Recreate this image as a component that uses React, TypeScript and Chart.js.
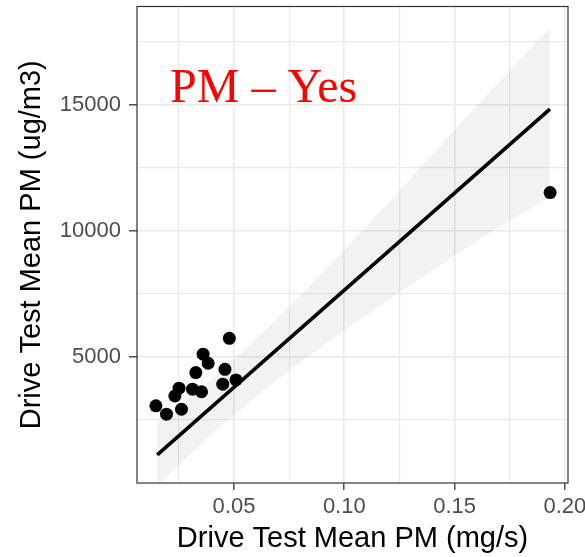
import React, { useEffect, useRef } from "react";
import { Chart, registerables } from "chart.js";

Chart.register(...registerables);

// Observed points (x: mg/s, y: ug/m3)
const pointX = [0.0146, 0.0194, 0.0262, 0.0232, 0.0251, 0.0312, 0.0353, 0.0327, 0.036, 0.0383, 0.0479, 0.0459, 0.0449, 0.0509, 0.1933];
const pointY = [3060, 2730, 2925, 3450, 3760, 3720, 3620, 4380, 5110, 4750, 5740, 4510, 3920, 4090, 11520];

// Fitted regression line (end points)
const fitX = [0.0152, 0.1932];
const fitY = [1115, 14830];

// Confidence band edges
const bandX = [0.0152, 0.03, 0.0443, 0.07, 0.1, 0.13, 0.16, 0.1932];
const bandUpper = [2370, 3390, 4450, 6550, 9250, 12080, 14950, 18050];
const bandLower = [-140, 1120, 2270, 4120, 6050, 7850, 9590, 11350];

// Grid positions and labelled ticks
const xGrid = [0.025, 0.05, 0.075, 0.1, 0.125, 0.15, 0.175, 0.2];
const yGrid = [2500, 5000, 7500, 10000, 12500, 15000, 17500];
const xTickLabels = [0.05, 0.1, 0.15, 0.2];
const yTickLabels = [5000, 10000, 15000];

const annotationText = "PM \u2013 Yes";
const xTitle = "Drive Test Mean PM (mg/s)";
const yTitle = "Drive Test Mean PM (ug/m3)";

const isLabelX = (v: number) => xTickLabels.some((t) => Math.abs(t - v) < 1e-6);
const isLabelY = (v: number) => yTickLabels.some((t) => Math.abs(t - v) < 1e-6);

const SANS = '"Liberation Sans", Arial, Helvetica, sans-serif';

const framePlugin = {
  id: "frameAndLabel",
  afterDraw(chart: any) {
    const { ctx, chartArea } = chart;
    ctx.save();
    ctx.strokeStyle = "#333333";
    ctx.lineWidth = 1.2;
    ctx.strokeRect(
      chartArea.left,
      chartArea.top,
      chartArea.right - chartArea.left,
      chartArea.bottom - chartArea.top
    );
    ctx.fillStyle = "#ff0000";
    ctx.font = '48px "Liberation Serif", "Times New Roman", serif';
    ctx.textBaseline = "alphabetic";
    ctx.textAlign = "left";
    ctx.fillText(annotationText, chartArea.left + 33, chartArea.top + 95);
    ctx.restore();
  },
};

export default function App() {
  const ref = useRef<HTMLCanvasElement | null>(null);

  useEffect(() => {
    document.body.style.margin = "0";
    const canvas = ref.current;
    if (!canvas) return;

    const chart = new Chart(canvas, {
      type: "scatter",
      data: {
        datasets: [
          {
            type: "scatter",
            data: pointX.map((x, i) => ({ x, y: pointY[i] })),
            backgroundColor: "#000000",
            borderWidth: 0,
            pointRadius: 6.5,
            order: 0,
          } as any,
          {
            type: "line",
            data: fitX.map((x, i) => ({ x, y: fitY[i] })),
            borderColor: "#000000",
            borderWidth: 3.6,
            pointRadius: 0,
            fill: false,
            order: 1,
          } as any,
          {
            type: "line",
            data: bandX.map((x, i) => ({ x, y: bandUpper[i] })),
            borderWidth: 0,
            borderColor: "rgba(0,0,0,0)",
            backgroundColor: "rgba(0,0,0,0.05)",
            pointRadius: 0,
            tension: 0.3,
            fill: "+1",
            order: 2,
          } as any,
          {
            type: "line",
            data: bandX.map((x, i) => ({ x, y: bandLower[i] })),
            borderWidth: 0,
            borderColor: "rgba(0,0,0,0)",
            pointRadius: 0,
            tension: 0.3,
            fill: false,
            order: 3,
          } as any,
        ],
      },
      options: {
        animation: false,
        responsive: false,
        events: [],
        layout: { padding: { left: 8, top: 6, right: 17, bottom: 0 } },
        plugins: {
          legend: { display: false },
          tooltip: { enabled: false },
        },
        scales: {
          x: {
            type: "linear",
            min: 0.00604,
            max: 0.2014,
            afterBuildTicks: (scale: any) => {
              scale.ticks = xGrid.map((v) => ({ value: v }));
            },
            afterFit: (scale: any) => {
              scale.height = 74;
              scale.paddingLeft = 0;
              scale.paddingRight = 0;
            },
            ticks: {
              autoSkip: false,
              maxRotation: 0,
              padding: 4,
              color: "#4d4d4d",
              font: { family: SANS, size: 22 },
              callback: (v: any) => (isLabelX(Number(v)) ? Number(v).toFixed(2) : ""),
            },
            grid: {
              color: "#e9e9e9",
              lineWidth: (c: any) => (isLabelX(c.tick?.value) ? 1.6 : 1.2),
              tickLength: 7,
              tickWidth: 1.3,
              tickColor: (c: any) => (isLabelX(c.tick?.value) ? "#333333" : "rgba(0,0,0,0)"),
            },
            border: { display: false },
            title: {
              display: true,
              text: xTitle,
              color: "#000000",
              font: { family: SANS, size: 29 },
              padding: { top: 0, bottom: 1 },
            },
          },
          y: {
            type: "linear",
            min: 0,
            max: 18900,
            afterBuildTicks: (scale: any) => {
              scale.ticks = yGrid.map((v) => ({ value: v }));
            },
            afterFit: (scale: any) => {
              scale.width = 129;
              scale.paddingTop = 0;
              scale.paddingBottom = 0;
            },
            ticks: {
              autoSkip: false,
              padding: 8,
              color: "#4d4d4d",
              font: { family: SANS, size: 22 },
              callback: (v: any) => (isLabelY(Number(v)) ? String(v) : ""),
            },
            grid: {
              color: "#e9e9e9",
              lineWidth: (c: any) => (isLabelY(c.tick?.value) ? 1.6 : 1.2),
              tickLength: 8,
              tickWidth: 1.3,
              tickColor: (c: any) => (isLabelY(c.tick?.value) ? "#333333" : "rgba(0,0,0,0)"),
            },
            border: { display: false },
            title: {
              display: true,
              text: yTitle,
              color: "#000000",
              font: { family: SANS, size: 29 },
              padding: { top: 7, bottom: 0 },
            },
          },
        },
      },
      plugins: [framePlugin],
    });

    return () => chart.destroy();
  }, []);

  return (
    <div style={{ width: 585, height: 557, overflow: "hidden", background: "#ffffff" }}>
      <canvas ref={ref} width={585} height={557} style={{ display: "block" }} />
    </div>
  );
}
